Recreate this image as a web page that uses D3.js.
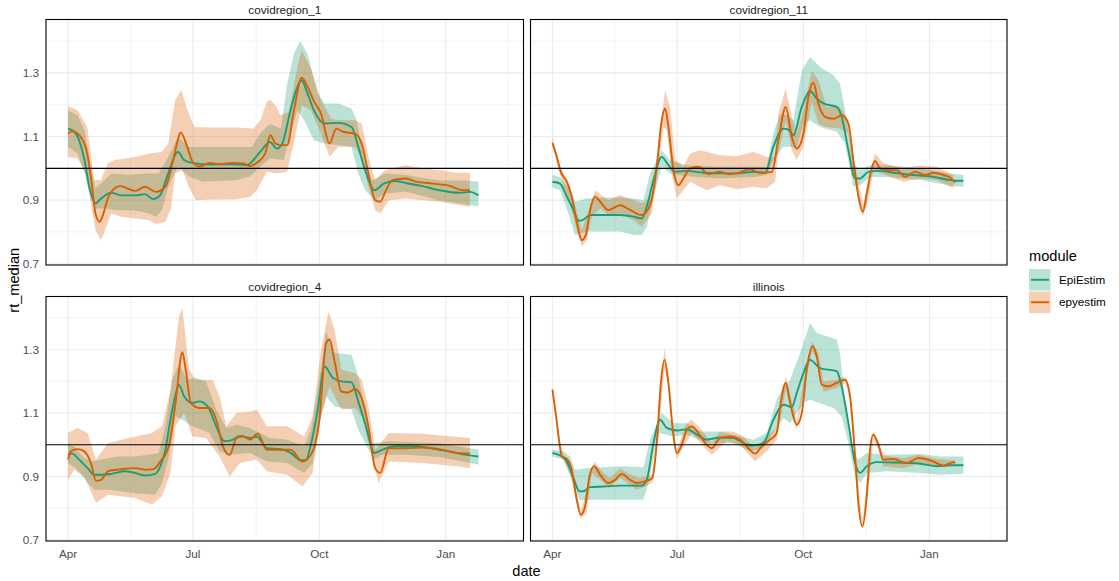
<!DOCTYPE html>
<html><head><meta charset="utf-8">
<script src="https://cdn.jsdelivr.net/npm/d3@7/dist/d3.min.js"></script>
<style>
body{margin:0;background:#fff;}
svg{display:block;font-family:"Liberation Sans",Arial,sans-serif;}
</style>
</head><body>
<svg id="chart" width="1119" height="581"></svg>
<script>
// ---------- data (x = days after 2020-04-01, y = Rt) ----------
const facetNames = ["covidregion_1", "covidregion_11", "covidregion_4", "illinois"];
const moduleNames = ["EpiEstim", "epyestim"];
const xTickLabels = ["Apr", "Jul", "Oct", "Jan"];
const xTickDates = ["2020-04-01", "2020-07-01", "2020-10-01", "2021-01-01"];
const yTicks = [0.7, 0.9, 1.1, 1.3];
const yMinor = [0.8, 1.0, 1.2, 1.4];

// covidregion_1
const r1EpiMed = [[0,1.125],[3,1.12],[7,1.10],[12,1.026],[15.5,0.942],[20,0.89],[24,0.905],[31.5,0.923],[39,0.915],[49,0.915],[56,0.919],[62,0.903],[67,0.915],[73,0.984],[80,1.052],[84.5,1.026],[90.6,1.017],[103,1.012],[117.7,1.013],[130,1.01],[140,1.052],[147,1.083],[152,1.062],[156,1.078],[162,1.183],[167,1.256],[170,1.277],[174,1.24],[179,1.183],[186.7,1.141],[196.6,1.143],[206.4,1.13],[211.3,1.068],[216.3,0.994],[223.2,0.931],[229.8,0.952],[238.4,0.96],[245.8,0.954],[258.1,0.944],[270.4,0.931],[285.2,0.923],[292.6,0.926],[298.8,0.915]];
const r1EpiHi = [[0,1.183],[7,1.167],[12,1.12],[17,0.995],[20,0.937],[24,0.952],[31.5,0.984],[44,0.979],[56,0.984],[66,0.984],[73,1.036],[80,1.099],[88,1.067],[98,1.067],[122.7,1.067],[133.7,1.067],[140,1.11],[147,1.139],[155,1.125],[159.6,1.267],[164.5,1.36],[169,1.4],[174.4,1.36],[181.8,1.235],[186.7,1.204],[196.6,1.204],[206.4,1.188],[210.1,1.151],[216.3,1.015],[221.2,0.962],[231,0.984],[245.8,0.979],[270.4,0.962],[290,0.962],[298.8,0.958]];
const r1EpiLo = [[0,1.068],[7,1.047],[12,0.984],[17,0.9],[20,0.874],[27,0.874],[34,0.869],[49,0.867],[59,0.858],[64,0.848],[68.5,0.869],[73,0.942],[80,1.005],[88,0.974],[98,0.958],[122.7,0.963],[132.5,0.974],[140,1.005],[147,1.031],[157,1.026],[162,1.11],[167,1.183],[172,1.151],[179,1.088],[186.7,1.078],[196.6,1.073],[206.4,1.068],[211.3,0.984],[216.3,0.931],[223.2,0.9],[231,0.921],[245.8,0.926],[270.4,0.9],[292.6,0.884],[298.8,0.881]];
const r1EpyMed = [[0,1.109],[3,1.117],[9,1.1],[14,1.047],[17,0.963],[20,0.858],[23,0.832],[25,0.848],[29,0.905],[34,0.937],[38,0.944],[43,0.937],[49,0.929],[56,0.942],[64,0.926],[71,0.942],[76,1.016],[80,1.089],[82,1.113],[86,1.078],[91,1.018],[96,1.006],[103,1.017],[110,1.013],[120,1.017],[128,1.015],[132.5,1.007],[137.4,1.017],[143.6,1.047],[147.3,1.104],[151,1.078],[154.7,1.073],[159.6,1.073],[164.5,1.183],[170.2,1.285],[174.4,1.256],[179.3,1.209],[184.2,1.172],[190.4,1.078],[195.3,1.125],[200.2,1.115],[208.9,1.109],[213.8,1.078],[218.7,0.984],[223.6,0.9],[227.3,0.895],[231,0.926],[236,0.963],[245.8,0.968],[253.2,0.958],[265.5,0.952],[277.8,0.945],[287.7,0.931],[292.6,0.931]];
const r1EpyHi = [[0,1.195],[7,1.183],[14,1.13],[17,1.036],[19,0.963],[24,0.963],[29,1.016],[34,1.026],[49,1.036],[59,1.047],[68.5,1.052],[73,1.078],[78,1.214],[82.5,1.246],[87,1.183],[92,1.13],[103,1.128],[122.7,1.128],[135,1.125],[140,1.151],[144.8,1.209],[147.3,1.216],[151,1.198],[154.7,1.167],[160.8,1.177],[167,1.319],[170.2,1.371],[176.8,1.314],[184.2,1.214],[191.6,1.157],[196.6,1.151],[208.9,1.151],[213.8,1.141],[218.7,1.036],[223.6,0.963],[231,0.995],[245.8,1.01],[258.1,1.0],[270.4,0.995],[282.8,0.986],[292.6,0.986]];
const r1EpyLo = [[0,1.036],[7,1.031],[13,0.984],[17,0.879],[20,0.806],[24,0.774],[27,0.806],[31.5,0.858],[39,0.848],[49,0.842],[59,0.837],[64,0.825],[71,0.832],[75,0.874],[78,0.984],[83.3,0.995],[88,0.942],[93,0.9],[103,0.902],[122.7,0.903],[132.5,0.91],[137.4,0.931],[144.8,0.989],[151,0.984],[159.6,0.989],[164.5,1.083],[170.2,1.198],[176.8,1.183],[184.2,1.109],[190.4,1.036],[196.6,1.068],[208.9,1.068],[213.8,1.036],[218.7,0.942],[223.6,0.869],[227.3,0.858],[233.5,0.9],[245.8,0.905],[270.4,0.895],[292.6,0.879]];

// covidregion_11
const r11EpiMed = [[0,0.958],[5.6,0.952],[10.5,0.911],[15.3,0.869],[19,0.835],[22.6,0.839],[27.5,0.853],[37.2,0.853],[49.4,0.853],[59.1,0.848],[65.2,0.842],[68.8,0.879],[73.7,0.963],[79.7,1.036],[84.6,1.01],[89.5,0.989],[98,0.992],[110.1,0.986],[122.3,0.984],[134.5,0.984],[146.6,0.989],[155.1,0.986],[161.2,1.068],[168.5,1.125],[172.1,1.122],[175.8,1.104],[181.9,1.193],[187.9,1.243],[192.8,1.219],[197.7,1.204],[207.4,1.193],[211,1.162],[215.9,1.057],[220.8,0.968],[224.4,0.968],[230.5,0.989],[239,0.992],[248.7,0.986],[263.3,0.979],[275.5,0.975],[287.6,0.965],[293.7,0.961],[299.8,0.961]];
const r11EpiHi = [[0,0.979],[5.6,0.973],[12.9,0.931],[16.5,0.895],[25,0.905],[37.2,0.908],[49.4,0.908],[59.1,0.905],[66.4,0.9],[71.2,0.984],[79.7,1.057],[85.8,1.026],[98,1.01],[122.3,1.005],[146.6,1.005],[156.3,1.005],[161.2,1.11],[166.1,1.172],[170.9,1.167],[175.8,1.151],[181.9,1.308],[187.9,1.35],[195.2,1.319],[205,1.293],[209.8,1.266],[213.5,1.183],[219.5,1.016],[224.4,0.995],[231.7,1.01],[243.9,1.01],[268.4,1.0],[292.5,0.982],[299.8,0.979]];
const r11EpiLo = [[0,0.94],[5.6,0.931],[11.7,0.858],[16.5,0.79],[25,0.801],[37.2,0.801],[49.4,0.801],[59.1,0.79],[65.2,0.79],[68.8,0.816],[74.9,0.931],[79.7,1.005],[85.8,0.984],[98,0.975],[122.3,0.968],[146.6,0.973],[156.3,0.979],[161.2,1.026],[168.5,1.068],[173.4,1.068],[178.2,1.062],[183.1,1.141],[187.9,1.151],[195.2,1.13],[207.4,1.115],[213.5,1.078],[219.5,0.942],[224.4,0.947],[231.7,0.973],[243.9,0.973],[268.4,0.963],[292.5,0.944],[299.8,0.942]];
const r11EpyMed = [[0,1.08],[3.2,1.036],[6.1,0.989],[10.5,0.958],[14.1,0.911],[17.7,0.832],[21.4,0.774],[24.3,0.79],[27.5,0.869],[31.1,0.911],[34.8,0.895],[40.8,0.869],[49.4,0.884],[56.6,0.869],[65.2,0.853],[71.2,0.884],[76.1,1.005],[79.7,1.151],[82.2,1.188],[84.6,1.13],[88.3,0.994],[91.9,0.947],[95.5,0.968],[100.4,1.0],[106.5,1.005],[113.8,0.982],[122.3,0.989],[128.4,0.982],[134.5,0.984],[144.2,0.997],[151.5,0.986],[160,0.989],[164.8,1.089],[170.2,1.193],[174.6,1.099],[178.2,1.062],[183.1,1.109],[186.7,1.225],[190.4,1.269],[194,1.204],[198.9,1.162],[205,1.156],[211,1.167],[215.9,1.141],[219.5,1.026],[223.2,0.911],[226.4,0.863],[229.3,0.921],[232.9,1.0],[235.3,1.023],[239,1.0],[246.3,0.994],[251.2,0.994],[257.3,0.973],[264.6,0.989],[271.8,0.979],[277.9,0.986],[285.2,0.979],[290.1,0.971],[293.7,0.955]];
const r11EpyHi = [[0,1.099],[5.6,1.005],[12.9,0.942],[21.4,0.806],[25,0.848],[31.1,0.931],[40.8,0.9],[49.4,0.916],[59.1,0.9],[65.2,0.89],[72.5,0.911],[76.1,1.036],[82.2,1.246],[85.8,1.193],[89.5,1.026],[95.5,1.005],[100.4,1.047],[107.7,1.057],[122.3,1.041],[134.5,1.038],[146.6,1.052],[156.3,1.036],[162.4,1.036],[164.8,1.172],[170.2,1.251],[174.6,1.162],[178.2,1.11],[183.1,1.183],[189.2,1.308],[194,1.277],[200.1,1.193],[209.8,1.193],[215.9,1.151],[220.8,1.005],[226.8,0.884],[230.5,0.963],[235.3,1.047],[241.4,1.016],[256,1.0],[268.4,1.01],[280.3,1.005],[292.5,0.979]];
const r11EpyLo = [[0,1.068],[5.6,0.979],[12.9,0.89],[17.7,0.806],[21.4,0.754],[25,0.774],[28.7,0.848],[34.8,0.874],[40.8,0.853],[49.4,0.858],[59.1,0.837],[65.2,0.816],[72.5,0.858],[76.1,0.963],[81,1.13],[83.4,1.12],[87,0.984],[90.7,0.905],[95.5,0.931],[100.4,0.958],[112.6,0.931],[122.3,0.947],[134.5,0.934],[146.6,0.942],[156.3,0.937],[162.4,0.958],[164.8,1.047],[170.2,1.151],[174.6,1.057],[178.2,1.026],[183.1,1.068],[189.2,1.209],[194,1.141],[198.9,1.13],[209.8,1.125],[215.9,1.109],[219.5,0.984],[226.4,0.848],[230.5,0.9],[234.1,0.994],[240.2,0.984],[256,0.958],[268.4,0.968],[280.3,0.963],[292.5,0.937]];

// covidregion_4
const r4EpiMed = [[0,0.968],[3.2,0.972],[8.1,0.953],[14.3,0.926],[19.2,0.905],[24.1,0.905],[31.5,0.908],[41.4,0.916],[48.8,0.911],[56.2,0.903],[63.5,0.908],[67.2,0.932],[70.9,0.984],[74.6,1.079],[78.3,1.158],[80.8,1.189],[84.5,1.153],[90.6,1.132],[95.6,1.137],[101.7,1.121],[107.9,1.058],[114,1.011],[120.2,1.016],[125.1,1.028],[132.5,1.021],[137.4,1.026],[144.8,0.989],[154.7,0.986],[162.1,0.974],[169.5,0.951],[173.2,0.951],[176.8,1.0],[181.8,1.111],[186.7,1.247],[192.9,1.211],[199,1.2],[206.4,1.197],[211.3,1.137],[216.3,1.068],[223.2,0.974],[228.6,0.984],[238.4,0.995],[253.2,0.995],[267.9,0.986],[277.8,0.979],[290.1,0.968],[298.8,0.963]];
const r4EpiHi = [[0,1.005],[4.4,0.995],[11.8,0.958],[18,0.947],[24.1,0.953],[36.5,0.963],[48.8,0.963],[58.6,0.968],[66,0.974],[70.9,1.058],[75.9,1.205],[80.8,1.253],[86.9,1.205],[93.1,1.211],[100.5,1.2],[107.9,1.111],[115.3,1.053],[122.7,1.063],[132.5,1.053],[139.9,1.037],[147.3,1.021],[159.6,1.016],[171.9,0.995],[176.8,1.047],[183,1.205],[187.9,1.358],[194.1,1.29],[206.4,1.284],[211.3,1.216],[216.3,1.111],[221.2,1.005],[233.5,1.011],[270.4,1.005],[298.8,0.984]];
const r4EpiLo = [[0,0.942],[6.9,0.921],[14.3,0.879],[19.2,0.858],[29.1,0.858],[48.8,0.847],[63.5,0.842],[68.5,0.879],[73.4,0.963],[78.3,1.089],[83.3,1.079],[90.6,1.058],[103,1.037],[110.3,0.979],[117.7,0.968],[132.5,0.974],[144.8,0.947],[159.6,0.942],[171.9,0.911],[178.1,0.942],[183,1.068],[187.9,1.153],[194.1,1.121],[206.4,1.111],[211.3,1.047],[218.7,0.984],[223.6,0.953],[228.6,0.968],[245.8,0.968],[270.4,0.961],[298.8,0.937]];
const r4EpyMed = [[0,0.953],[2,0.979],[6.9,0.986],[11.8,0.979],[16.7,0.942],[20.4,0.886],[24.1,0.889],[29.1,0.916],[35.2,0.921],[48.8,0.926],[56.2,0.921],[62.3,0.923],[67.2,0.947],[73.4,0.995],[78.3,1.132],[83.3,1.292],[85.7,1.237],[89.4,1.132],[95.6,1.116],[103,1.116],[107.9,1.079],[112.8,0.995],[117.7,0.968],[122.7,1.021],[127.6,1.026],[132.5,1.016],[138.2,1.035],[144.8,0.984],[152.2,0.984],[162.1,0.984],[170.7,0.947],[178.1,0.979],[183,1.079],[187.9,1.321],[190.4,1.332],[194.1,1.263],[199,1.168],[203.9,1.165],[208.9,1.176],[213.8,1.147],[218.7,1.058],[223.6,0.926],[227.3,0.911],[233.5,0.989],[245.8,0.989],[258.1,0.991],[270.4,0.986],[282.8,0.974],[292.6,0.972]];
const r4EpyHi = [[0,1.037],[6.9,1.053],[14.3,1.037],[20.4,0.953],[29.1,1.005],[43.8,1.021],[61.1,1.037],[68.5,1.058],[74.6,1.174],[80.8,1.405],[83.3,1.432],[88.2,1.237],[93.1,1.205],[105.4,1.205],[110.3,1.153],[115.3,1.058],[122.7,1.1],[132.5,1.105],[137.4,1.111],[144.8,1.058],[159.6,1.058],[171.9,1.026],[178.1,1.089],[184.2,1.3],[189.7,1.421],[194.1,1.363],[199,1.237],[208.9,1.226],[213.8,1.205],[218.7,1.121],[223.6,0.984],[233.5,1.037],[258.1,1.035],[280.3,1.026],[292.6,1.021]];
const r4EpyLo = [[0,0.889],[4.4,0.921],[11.8,0.9],[20.4,0.816],[29.1,0.842],[48.8,0.832],[61.1,0.811],[68.5,0.837],[74.6,0.911],[78.3,1.058],[84.5,1.1],[90.6,1.026],[100.5,1.021],[110.3,0.963],[117.7,0.9],[125.1,0.942],[137.4,0.953],[144.8,0.916],[159.6,0.905],[170.7,0.868],[178.1,0.911],[184.2,1.089],[190.4,1.184],[199,1.111],[208.9,1.116],[213.8,1.089],[218.7,1.005],[226.1,0.879],[233.5,0.947],[258.1,0.942],[282.8,0.932],[292.6,0.926]];

// illinois
const ilEpiMed = [[0,0.974],[5.6,0.966],[10.5,0.947],[15.3,0.895],[19.7,0.853],[22.6,0.853],[27.5,0.866],[37.2,0.868],[49.4,0.871],[59.1,0.871],[65.2,0.871],[68.8,0.889],[73.7,1.005],[78.5,1.079],[83.4,1.053],[90.7,1.045],[98,1.049],[105.3,1.032],[112.6,1.016],[122.3,1.023],[132,1.021],[141.7,1.0],[146.6,0.997],[153.9,1.005],[161.2,1.079],[168.5,1.126],[174.6,1.119],[178.2,1.163],[183.1,1.226],[187.9,1.268],[195.2,1.242],[207.4,1.232],[211,1.184],[215.9,1.068],[220.8,0.942],[224.4,0.911],[229.3,0.932],[236.6,0.945],[248.7,0.944],[268.4,0.94],[280.3,0.932],[290.1,0.935],[299.8,0.935]];
const ilEpiHi = [[0,0.984],[8,0.979],[12.9,0.963],[16.5,0.921],[25,0.926],[49.4,0.932],[66.4,0.929],[71.2,1.016],[79.7,1.1],[88.3,1.068],[98,1.068],[107.7,1.042],[122.3,1.042],[136.9,1.026],[146.6,1.016],[156.3,1.037],[163.6,1.142],[168.5,1.184],[173.4,1.205],[180.6,1.289],[187.9,1.384],[192.8,1.353],[207.4,1.332],[209.8,1.289],[213.5,1.132],[218.3,0.984],[223.2,0.953],[229.3,0.974],[243.9,0.968],[268.4,0.971],[282.8,0.963],[299.8,0.963]];
const ilEpiLo = [[0,0.963],[8,0.953],[15.3,0.874],[19.7,0.826],[37.2,0.826],[59.1,0.826],[66.4,0.826],[70,0.879],[74.9,0.984],[78.5,1.037],[88.3,1.026],[98,1.032],[112.6,1.005],[132,1.005],[144.2,0.979],[153.9,0.989],[161.2,1.037],[168.5,1.084],[173.4,1.068],[183.1,1.132],[187.9,1.142],[205,1.116],[211,1.089],[215.9,1.005],[220.8,0.9],[224.4,0.879],[229.3,0.911],[243.9,0.916],[268.4,0.911],[282.8,0.905],[299.8,0.908]];
const ilEpyMed = [[0,1.174],[2.7,1.089],[5.1,1.005],[6.8,0.963],[10.5,0.955],[14.1,0.921],[17.3,0.837],[20.7,0.779],[23.8,0.805],[27,0.9],[30.4,0.932],[34.8,0.905],[40.8,0.879],[45.7,0.889],[50.6,0.908],[56.6,0.889],[61.5,0.879],[67.6,0.884],[72.9,0.895],[76.1,1.005],[79.3,1.205],[81.7,1.268],[84.6,1.195],[87.8,1.047],[90.7,0.974],[94.3,1.0],[98,1.047],[101.6,1.058],[106.5,1.037],[111.4,1.005],[116.2,0.989],[122.3,1.021],[129.6,1.026],[136.9,1.016],[142.9,0.989],[147.9,0.972],[152.7,0.995],[158.8,1.016],[163.6,1.037],[166.5,1.132],[170.2,1.195],[173.4,1.132],[178.2,1.063],[181.9,1.1],[185.5,1.237],[189.6,1.311],[192.8,1.279],[196.5,1.189],[201.3,1.184],[207.4,1.195],[213.5,1.205],[217.1,1.153],[220.8,0.963],[223.2,0.816],[226.1,0.742],[229.3,0.837],[231.7,0.984],[234.1,1.032],[237.8,1.0],[241.4,0.953],[248.7,0.955],[258.5,0.942],[267,0.958],[277.9,0.947],[285.2,0.934],[292.5,0.945],[293.7,0.942]];
const ilEpyHi = [[0,1.184],[5.1,1.016],[8,0.968],[12.9,0.947],[17.3,0.853],[20.7,0.79],[25,0.858],[30.4,0.947],[37.2,0.911],[42,0.895],[49.4,0.926],[56.6,0.905],[63.9,0.895],[72.5,0.905],[76.1,1.016],[81.7,1.305],[84.6,1.216],[87.8,1.063],[90.7,0.984],[98,1.068],[101.6,1.079],[107.7,1.053],[116.2,1.005],[122.3,1.042],[132,1.042],[139.3,1.026],[147.9,0.989],[156.3,1.026],[163.6,1.053],[170.2,1.216],[178.2,1.079],[185.5,1.253],[189.6,1.326],[194,1.289],[197.7,1.2],[207.4,1.205],[213.5,1.216],[217.1,1.163],[220.8,0.974],[226.1,0.753],[230.5,0.921],[234.1,1.042],[237.8,1.011],[241.4,0.966],[256,0.958],[267,0.968],[280.3,0.955],[293.7,0.95]];
const ilEpyLo = [[0,1.163],[5.1,0.995],[8,0.953],[12.9,0.911],[17.3,0.821],[20.7,0.768],[25,0.784],[28.7,0.911],[34.8,0.89],[40.8,0.863],[49.4,0.895],[56.6,0.874],[61.5,0.858],[67.6,0.868],[72.9,0.879],[76.1,0.984],[81.7,1.237],[84.6,1.195],[87.8,1.026],[90.7,0.953],[94.3,0.984],[101.6,1.037],[111.4,0.989],[116.2,0.968],[127.2,1.011],[136.9,1.0],[147.9,0.947],[156.3,0.979],[163.6,1.016],[170.2,1.174],[178.2,1.047],[185.5,1.216],[189.6,1.295],[194,1.258],[197.7,1.168],[207.4,1.179],[213.5,1.195],[217.1,1.142],[220.8,0.942],[226.1,0.734],[229.3,0.816],[234.1,1.016],[237.8,0.984],[241.4,0.932],[256,0.926],[267,0.94],[280.3,0.932],[293.7,0.932]];

// ---------- assembled tables ----------
const facetData = [
  {name: facetNames[0], series: [{med:r1EpiMed, lo:r1EpiLo, hi:r1EpiHi}, {med:r1EpyMed, lo:r1EpyLo, hi:r1EpyHi}]},
  {name: facetNames[1], series: [{med:r11EpiMed, lo:r11EpiLo, hi:r11EpiHi}, {med:r11EpyMed, lo:r11EpyLo, hi:r11EpyHi}]},
  {name: facetNames[2], series: [{med:r4EpiMed, lo:r4EpiLo, hi:r4EpiHi}, {med:r4EpyMed, lo:r4EpyLo, hi:r4EpyHi}]},
  {name: facetNames[3], series: [{med:ilEpiMed, lo:ilEpiLo, hi:ilEpiHi}, {med:ilEpyMed, lo:ilEpyLo, hi:ilEpyHi}]}
];

// ---------- layout / styles ----------
const lineColors = ["#1B9E77", "#D95F02"];
const W = 1119, H = 581;
const colX = [[46, 523.5], [530.5, 1007]];
const rowY = [[19.5, 265], [296.5, 541]];
const DAY0 = new Date(2020, 3, 1);
const dayToDate = d => new Date(DAY0.getTime() + d * 864e5);
const parse = d3.timeParse("%Y-%m-%d");
const majorDates = xTickDates.map(parse);
const minorDates = majorDates.map((d, i) => {
  const next = i < majorDates.length - 1 ? majorDates[i + 1] : parse("2021-04-01");
  return new Date((d.getTime() + next.getTime()) / 2);
});

const svg = d3.select("#chart");
svg.append("rect").attr("width", W).attr("height", H).attr("fill", "#fff");
const defs = svg.append("defs");

facetData.forEach((f, i) => {
  const c = i % 2, r = Math.floor(i / 2);
  const [x0, x1] = colX[c], [y0, y1] = rowY[r];
  const x = d3.scaleTime().domain([dayToDate(-16), dayToDate(331.6)]).range([x0, x1]);
  const y = d3.scaleLinear().domain([0.696, 1.468]).range([y1, y0]);
  const g = svg.append("g");

  // gridlines
  const grid = g.append("g");
  yMinor.forEach(v => grid.append("line").attr("x1", x0).attr("x2", x1).attr("y1", y(v)).attr("y2", y(v))
    .attr("stroke", "#EBEBEB").attr("stroke-width", 0.6));
  minorDates.forEach(d => { if (x(d) > x0 && x(d) < x1) grid.append("line").attr("x1", x(d)).attr("x2", x(d)).attr("y1", y0).attr("y2", y1)
    .attr("stroke", "#EBEBEB").attr("stroke-width", 0.6); });
  yTicks.forEach(v => grid.append("line").attr("x1", x0).attr("x2", x1).attr("y1", y(v)).attr("y2", y(v))
    .attr("stroke", "#EBEBEB").attr("stroke-width", 1.1));
  majorDates.forEach(d => grid.append("line").attr("x1", x(d)).attr("x2", x(d)).attr("y1", y0).attr("y2", y1)
    .attr("stroke", "#EBEBEB").attr("stroke-width", 1.1));

  const clipId = "clip" + i;
  defs.append("clipPath").attr("id", clipId).append("rect")
    .attr("x", x0).attr("y", y0).attr("width", x1 - x0).attr("height", y1 - y0);
  const plot = g.append("g").attr("clip-path", `url(#${clipId})`);

  const poly = d3.line().x(p => x(dayToDate(p[0]))).y(p => y(p[1]));
  const ln = d3.line().x(p => x(dayToDate(p[0]))).y(p => y(p[1])).curve(d3.curveMonotoneX);

  // ribbons
  f.series.forEach((s, k) => {
    const pts = s.hi.concat(s.lo.slice().reverse());
    plot.append("path").attr("d", poly(pts) + "Z")
      .attr("fill", lineColors[k]).attr("fill-opacity", 0.3).attr("stroke", "none");
  });
  // lines
  f.series.forEach((s, k) => {
    plot.append("path").attr("d", ln(s.med)).attr("fill", "none")
      .attr("stroke", lineColors[k]).attr("stroke-width", 1.9).attr("stroke-linejoin", "round");
  });
  // hline at 1
  plot.append("line").attr("x1", x0).attr("x2", x1).attr("y1", y(1)).attr("y2", y(1))
    .attr("stroke", "#000").attr("stroke-width", 1.1);

  // border
  g.append("rect").attr("x", x0).attr("y", y0).attr("width", x1 - x0).attr("height", y1 - y0)
    .attr("fill", "none").attr("stroke", "#000").attr("stroke-width", 1.1);

  // strip
  g.append("text").attr("x", (x0 + x1) / 2).attr("y", y0 - 6).attr("text-anchor", "middle")
    .attr("font-size", "11.7px").attr("fill", "#1A1A1A").text(f.name);

  // y axis labels (left column)
  if (c === 0) {
    yTicks.forEach(v => g.append("text").attr("x", x0 - 7).attr("y", y(v)).attr("dy", "0.36em")
      .attr("text-anchor", "end").attr("font-size", "11.7px").attr("fill", "#4D4D4D").text(d3.format(".1f")(v)));
  }
  // x axis labels (bottom row)
  if (r === 1) {
    majorDates.forEach((d, j) => g.append("text").attr("x", x(d)).attr("y", y1 + 16.5)
      .attr("text-anchor", "middle").attr("font-size", "11.7px").attr("fill", "#4D4D4D").text(xTickLabels[j]));
  }
});

// axis titles
svg.append("text").attr("x", (colX[0][0] + colX[1][1]) / 2).attr("y", 576).attr("text-anchor", "middle")
  .attr("font-size", "14.6px").attr("fill", "#000").text("date");
svg.append("text").attr("transform", `translate(18.5,${(rowY[0][0] + rowY[1][1]) / 2}) rotate(-90)`)
  .attr("text-anchor", "middle").attr("font-size", "14.6px").attr("fill", "#000").text("rt_median");

// legend
const lg = svg.append("g");
lg.append("text").attr("x", 1029).attr("y", 260.5).attr("font-size", "14.6px").attr("fill", "#000").text("module");
moduleNames.forEach((m, k) => {
  const ky = 269 + k * 22.5;
  lg.append("rect").attr("x", 1029).attr("y", ky).attr("width", 21.5).attr("height", 21.5)
    .attr("fill", lineColors[k]).attr("fill-opacity", 0.3);
  lg.append("line").attr("x1", 1031).attr("x2", 1049).attr("y1", ky + 10.75).attr("y2", ky + 10.75)
    .attr("stroke", lineColors[k]).attr("stroke-width", 1.9);
  lg.append("text").attr("x", 1059).attr("y", ky + 10.75).attr("dy", "0.36em")
    .attr("font-size", "11.7px").attr("fill", "#000").text(m);
});
</script>
</body></html>
